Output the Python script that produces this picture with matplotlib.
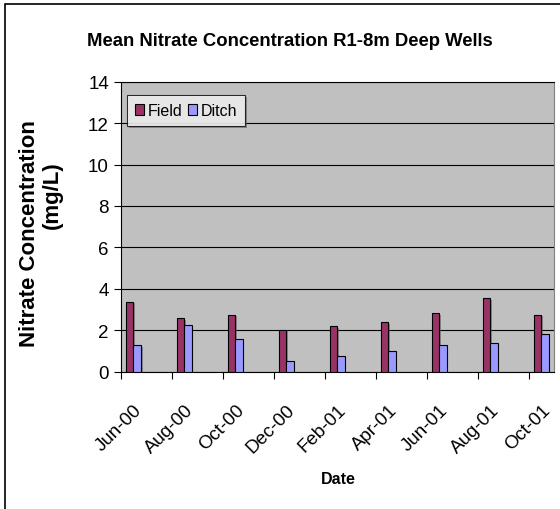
import matplotlib
matplotlib.use("Agg")
import matplotlib.pyplot as plt
import matplotlib.patheffects as pe
import numpy as np

dates = ["Jun-00", "Aug-00", "Oct-00", "Dec-00", "Feb-01", "Apr-01", "Jun-01", "Aug-01", "Oct-01"]
month_index = [0, 2, 4, 6, 8, 10, 12, 14, 16]
field = [3.38, 2.57, 2.75, 2.02, 2.19, 2.40, 2.81, 3.54, 2.75]
ditch = [1.27, 2.24, 1.56, 0.51, 0.75, 0.98, 1.27, 1.38, 1.83]
yticks = [0, 2, 4, 6, 8, 10, 12, 14]

plt.rcParams["font.family"] = ["Liberation Sans", "DejaVu Sans"]

W, H = 560, 510
fig = plt.figure(figsize=(W / 100, H / 100), dpi=100)

# outer chart border
fig.patches.append(plt.Rectangle((5 / W, -0.1), 1.2, (H - 5) / H + 0.1, transform=fig.transFigure,
                                 fill=False, edgecolor="black", linewidth=1.2))

left, right, top, bottom = 120.7, 554, 82.7, 372.6
ax = fig.add_axes([left / W, 1 - bottom / H, (right - left) / W, (bottom - top) / H])
ax.set_facecolor("#C0C0C0")

x = np.array(month_index) + 0.5
w = 0.29
shadow = [pe.SimplePatchShadow(offset=(1.2, -1.2), shadow_rgbFace="#606060", alpha=0.6), pe.Normal()]
b1 = ax.bar(x - w / 2, field, w, color="#993366", edgecolor="black", linewidth=0.8, label="Field", zorder=3)
b2 = ax.bar(x + w / 2, ditch, w, color="#9999FF", edgecolor="black", linewidth=0.8, label="Ditch", zorder=3)
for b in list(b1) + list(b2):
    b.set_path_effects(shadow)

ax.set_xlim(0, 17)
ax.set_ylim(0, 14)
ax.set_yticks(yticks)
ax.set_yticklabels([str(v) for v in yticks], fontsize=13.5)
ax.yaxis.grid(True, color="black", linewidth=0.8)
ax.set_axisbelow(True)

ax.set_xticks(month_index)
ax.set_xticklabels([""] * len(month_index))
ax.set_xticks(x, minor=True)
ax.set_xticklabels(dates, minor=True, rotation=45, ha="right", rotation_mode="anchor", fontsize=13.5)
ax.tick_params(axis="x", which="major", length=5, width=0.8, direction="out")
ax.tick_params(axis="x", which="minor", length=0, pad=21)
ax.tick_params(axis="y", length=5, width=0.8, direction="out", pad=3.5)

ax.spines["left"].set_color("black")
ax.spines["bottom"].set_color("black")
ax.spines["top"].set_color("black")
ax.spines["right"].set_color("#808080")
for s in ax.spines.values():
    s.set_linewidth(0.8)

leg = ax.legend(loc="upper left", bbox_to_anchor=(6.6 / (right - left), 1 - 13.3 / (bottom - top)),
                ncol=2, frameon=True, fancybox=False, shadow=False, fontsize=11.5,
                handlelength=0.56, handleheight=0.75, handletextpad=0.25, columnspacing=0.3,
                borderpad=0.5, borderaxespad=0)
leg.get_frame().set_edgecolor("black")
leg.get_frame().set_linewidth(0.8)
leg.get_frame().set_facecolor("white")
leg.get_frame().set_path_effects([pe.SimplePatchShadow(offset=(1.5, -1.5), shadow_rgbFace="#606060", alpha=0.6), pe.Normal()])
for h in leg.legend_handles:
    h.set_path_effects([])

fig.text(290 / W, 1 - 41 / H, "Mean Nitrate Concentration R1-8m Deep Wells", ha="center", va="center",
         fontsize=13.3, fontweight="bold")
fig.text(338 / W, 1 - 480 / H, "Date", ha="center", va="center",
         fontsize=11.5, fontweight="bold")
fig.text(30 / W, 1 - 234 / H, "Nitrate Concentration", ha="center", va="center",
         rotation=90, fontsize=16, fontweight="bold")
fig.text(52 / W, 1 - 195 / H, "(mg/L)", ha="center", va="center",
         rotation=90, fontsize=16, fontweight="bold")

fig.savefig("out.png", dpi=100)
